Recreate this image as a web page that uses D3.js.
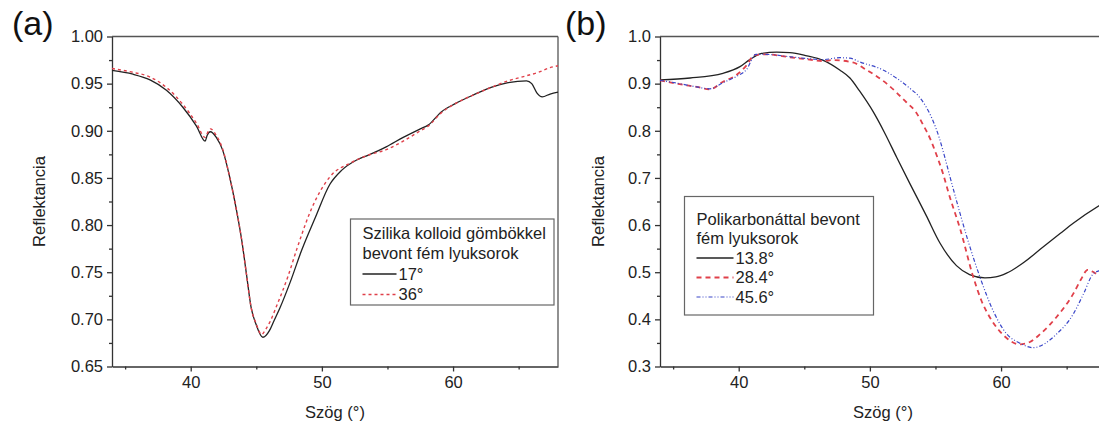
<!DOCTYPE html>
<html>
<head>
<meta charset="utf-8">
<script src="https://cdn.jsdelivr.net/npm/d3@7"></script>
<style>
  body { margin: 0; background: #fff; }
  svg { display: block; font-family: "Liberation Sans", Arial, sans-serif; }
  .axis path, .axis line { stroke: #333; stroke-width: 1.3; }
  .axis text { font-size: 16.5px; fill: #222; }
</style>
</head>
<body>
<svg width="1099" height="425"></svg>
<script>
// panel (a): silica colloid coated hole arrays
var angleA17 = [34.0, 35.6, 36.9, 38.15, 39.4, 40.44, 41.1, 41.25, 41.5, 41.95, 42.45, 42.97, 43.5, 43.9, 44.25, 44.6, 45.0, 45.5, 46.0, 46.3, 46.8, 47.6, 48.45, 49.5, 50.6, 51.5, 52.65, 53.5, 54.9, 56.2, 57.5, 58.1, 59.1, 60.2, 61.55, 62.9, 64.2, 65.6, 66.0, 66.4, 66.8, 67.4, 68.0];
var reflA17  = [0.964, 0.960, 0.954, 0.943, 0.925, 0.905, 0.889, 0.895, 0.899, 0.893, 0.879, 0.851, 0.815, 0.783, 0.748, 0.713, 0.694, 0.681, 0.688, 0.697, 0.712, 0.740, 0.773, 0.808, 0.843, 0.858, 0.869, 0.874, 0.883, 0.893, 0.902, 0.906, 0.920, 0.929, 0.938, 0.946, 0.951, 0.953, 0.950, 0.940, 0.936, 0.939, 0.941];
var angleA36 = [34.0, 35.6, 36.9, 38.15, 39.4, 40.44, 41.1, 41.25, 41.5, 41.95, 42.45, 42.97, 43.5, 43.9, 44.25, 44.6, 45.0, 45.4, 45.7, 46.03, 46.6, 47.4, 48.1, 49.2, 50.6, 52.2, 53.5, 54.9, 56.2, 57.5, 58.1, 59.1, 60.2, 61.55, 62.9, 64.2, 65.5, 66.5, 67.4, 68.0];
var reflA36  = [0.966, 0.962, 0.957, 0.946, 0.928, 0.908, 0.893, 0.897, 0.902, 0.895, 0.880, 0.851, 0.815, 0.783, 0.748, 0.713, 0.695, 0.684, 0.689, 0.697, 0.716, 0.745, 0.775, 0.817, 0.851, 0.866, 0.874, 0.880, 0.889, 0.900, 0.905, 0.919, 0.929, 0.938, 0.946, 0.953, 0.958, 0.962, 0.967, 0.969];

// panel (b): polycarbonate coated hole arrays
var angleB138 = [34.0, 36.3, 38.8, 40.1, 40.85, 41.75, 42.9, 43.9, 45.2, 46.4, 47.7, 48.48, 49.2, 50.26, 51.1, 52.04, 53.05, 54.3, 55.34, 56.6, 57.6, 58.77, 59.6, 60.42, 61.7, 62.96, 64.5, 65.5, 67.46, 68.0];
var reflB138  = [0.908, 0.912, 0.922, 0.936, 0.951, 0.964, 0.967, 0.966, 0.959, 0.950, 0.929, 0.912, 0.885, 0.840, 0.797, 0.744, 0.688, 0.620, 0.562, 0.514, 0.495, 0.488, 0.490, 0.498, 0.520, 0.548, 0.582, 0.604, 0.641, 0.650];
var angleB284 = [34.0, 35.5, 36.8, 37.8, 38.8, 39.8, 40.6, 41.2, 42.1, 43.9, 45.7, 46.4, 47.2, 48.7, 49.75, 51.28, 52.8, 53.5, 54.07, 54.6, 55.09, 55.6, 56.0, 56.9, 57.88, 58.5, 59.15, 59.8, 60.4, 61.4, 62.2, 62.96, 64.2, 65.5, 66.1, 66.6, 67.0, 67.46, 68.0];
var reflB284  = [0.907, 0.899, 0.893, 0.888, 0.904, 0.918, 0.939, 0.961, 0.962, 0.956, 0.950, 0.948, 0.950, 0.945, 0.929, 0.900, 0.860, 0.840, 0.812, 0.783, 0.748, 0.707, 0.668, 0.590, 0.490, 0.440, 0.404, 0.378, 0.361, 0.347, 0.352, 0.368, 0.404, 0.454, 0.485, 0.505, 0.501, 0.493, 0.487];
var angleB456 = [34.0, 35.5, 36.8, 37.8, 38.8, 39.8, 40.6, 41.3, 42.1, 43.9, 45.7, 46.4, 47.7, 48.48, 49.24, 51.0, 53.05, 53.7, 54.3, 54.8, 55.3, 55.7, 56.1, 56.6, 57.5, 58.4, 59.4, 60.4, 61.4, 62.45, 63.3, 64.2, 65.5, 66.3, 67.0, 67.46, 68.0];
var reflB456  = [0.907, 0.900, 0.893, 0.889, 0.902, 0.915, 0.930, 0.962, 0.962, 0.957, 0.952, 0.951, 0.955, 0.954, 0.946, 0.929, 0.890, 0.874, 0.850, 0.822, 0.784, 0.745, 0.703, 0.652, 0.565, 0.489, 0.418, 0.370, 0.350, 0.340, 0.348, 0.368, 0.411, 0.455, 0.496, 0.503, 0.508];

var xTicks = [40, 50, 60],
    xMinor = [35, 45, 55, 65];
var yTicksA = [0.65, 0.70, 0.75, 0.80, 0.85, 0.90, 0.95, 1.00],
    yMinorA = [0.675, 0.725, 0.775, 0.825, 0.875, 0.925, 0.975];
var yTicksB = [0.3, 0.4, 0.5, 0.6, 0.7, 0.8, 0.9, 1.0],
    yMinorB = [0.35, 0.45, 0.55, 0.65, 0.75, 0.85, 0.95];

var svg = d3.select("svg"),
    top_ = 36.5, bottom = 366.5;

function zip(xs, ys) {
  return xs.map(function(d, i) { return {x: d, y: ys[i]}; });
}

function panel(opt) {
  var x = d3.scaleLinear().domain([34, 68]).range([opt.left, opt.right]);
  var y = d3.scaleLinear().domain(opt.yDomain).range([bottom, top_]);
  var g = svg.append("g");

  // frame top + right
  g.append("line").attr("x1", opt.left).attr("x2", opt.right)
    .attr("y1", top_).attr("y2", top_).attr("stroke", "#555").attr("stroke-width", 1.3);
  g.append("line").attr("x1", opt.right).attr("x2", opt.right)
    .attr("y1", top_).attr("y2", bottom).attr("stroke", "#555").attr("stroke-width", 1.3);

  g.append("g").attr("class", "axis")
    .attr("transform", "translate(0," + bottom + ")")
    .call(d3.axisBottom(x).tickValues(xTicks).tickSize(5).tickSizeOuter(0).tickPadding(5));
  g.append("g").attr("class", "axis")
    .attr("transform", "translate(0," + bottom + ")")
    .call(d3.axisBottom(x).tickValues(xMinor).tickSize(3).tickFormat(""))
    .select(".domain").remove();
  g.append("g").attr("class", "axis")
    .attr("transform", "translate(" + opt.left + ",0)")
    .call(d3.axisLeft(y).tickValues(opt.yTicks).tickSize(5).tickSizeOuter(0).tickPadding(4)
      .tickFormat(d3.format(opt.fmt)));
  g.append("g").attr("class", "axis")
    .attr("transform", "translate(" + opt.left + ",0)")
    .call(d3.axisLeft(y).tickValues(opt.yMinor).tickSize(3).tickFormat(""))
    .select(".domain").remove();

  var line = d3.line()
    .x(function(d) { return x(d.x); })
    .y(function(d) { return y(d.y); })
    .curve(d3.curveMonotoneX);

  opt.series.forEach(function(s) {
    g.append("path")
      .attr("d", line(zip(s.xs, s.ys)))
      .attr("fill", "none")
      .attr("stroke", s.color)
      .attr("stroke-width", s.width)
      .attr("stroke-dasharray", s.dash);
  });

  // panel letter
  g.append("text").attr("x", opt.letterX).attr("y", 35)
    .attr("font-size", 34).attr("fill", "#111").text(opt.letter);

  // axis titles
  g.append("text")
    .attr("transform", "translate(" + opt.yTitleX + "," + (top_ + bottom) / 2 + ")rotate(-90)")
    .attr("text-anchor", "middle").attr("dy", "0.35em")
    .attr("font-size", 16.5).attr("fill", "#222").text("Reflektancia");
  g.append("text")
    .attr("x", (opt.left + opt.right) / 2).attr("y", 412)
    .attr("text-anchor", "middle").attr("dy", "0.35em")
    .attr("font-size", 16.5).attr("fill", "#222").text("Szög (°)");

  // legend
  var L = opt.legend;
  var lg = g.append("g");
  lg.append("rect").attr("x", L.x).attr("y", L.y).attr("width", L.w).attr("height", L.h)
    .attr("fill", "#fff").attr("stroke", "#666").attr("stroke-width", 1.2);
  L.title.forEach(function(t, i) {
    lg.append("text").attr("x", L.x + 12).attr("y", L.first + i * L.step)
      .attr("dy", "0.35em").attr("font-size", 16.5).attr("fill", "#222").text(t);
  });
  opt.series.forEach(function(s, i) {
    var yy = L.first + (L.title.length + i) * L.step;
    lg.append("line").attr("x1", L.x + 12).attr("x2", L.x + 12 + L.sample)
      .attr("y1", yy).attr("y2", yy)
      .attr("stroke", s.color).attr("stroke-width", s.width).attr("stroke-dasharray", s.dash);
    lg.append("text").attr("x", L.x + 14 + L.sample).attr("y", yy)
      .attr("dy", "0.35em").attr("font-size", 16.5).attr("fill", "#222").text(s.name);
  });
}

panel({
  left: 112, right: 558, yDomain: [0.65, 1.0],
  yTicks: yTicksA, yMinor: yMinorA, fmt: ".2f",
  letter: "(a)", letterX: 12, yTitleX: 39,
  legend: {x: 350.5, y: 219, w: 203.5, h: 86, first: 233, step: 20.5, sample: 34,
           title: ["Szilika kolloid gömbökkel", "bevont fém lyuksorok"]},
  series: [
    {name: "17°", xs: angleA17, ys: reflA17, color: "#222", width: 1.3, dash: null},
    {name: "36°", xs: angleA36, ys: reflA36, color: "#e0404a", width: 1.4, dash: "3,3"}
  ]
});

panel({
  left: 660, right: 1106, yDomain: [0.3, 1.0],
  yTicks: yTicksB, yMinor: yMinorB, fmt: ".1f",
  letter: "(b)", letterX: 565, yTitleX: 598,
  legend: {x: 684.5, y: 196.5, w: 189, h: 118.5, first: 219, step: 19.5, sample: 37,
           title: ["Polikarbonáttal bevont", "fém lyuksorok"]},
  series: [
    {name: "13.8°", xs: angleB138, ys: reflB138, color: "#222", width: 1.3, dash: null},
    {name: "28.4°", xs: angleB284, ys: reflB284, color: "#e0404a", width: 1.8, dash: "5,4"},
    {name: "45.6°", xs: angleB456, ys: reflB456, color: "#3a46c8", width: 1.2, dash: "4,2,1,2,1,2"}
  ]
});
</script>
</body>
</html>
